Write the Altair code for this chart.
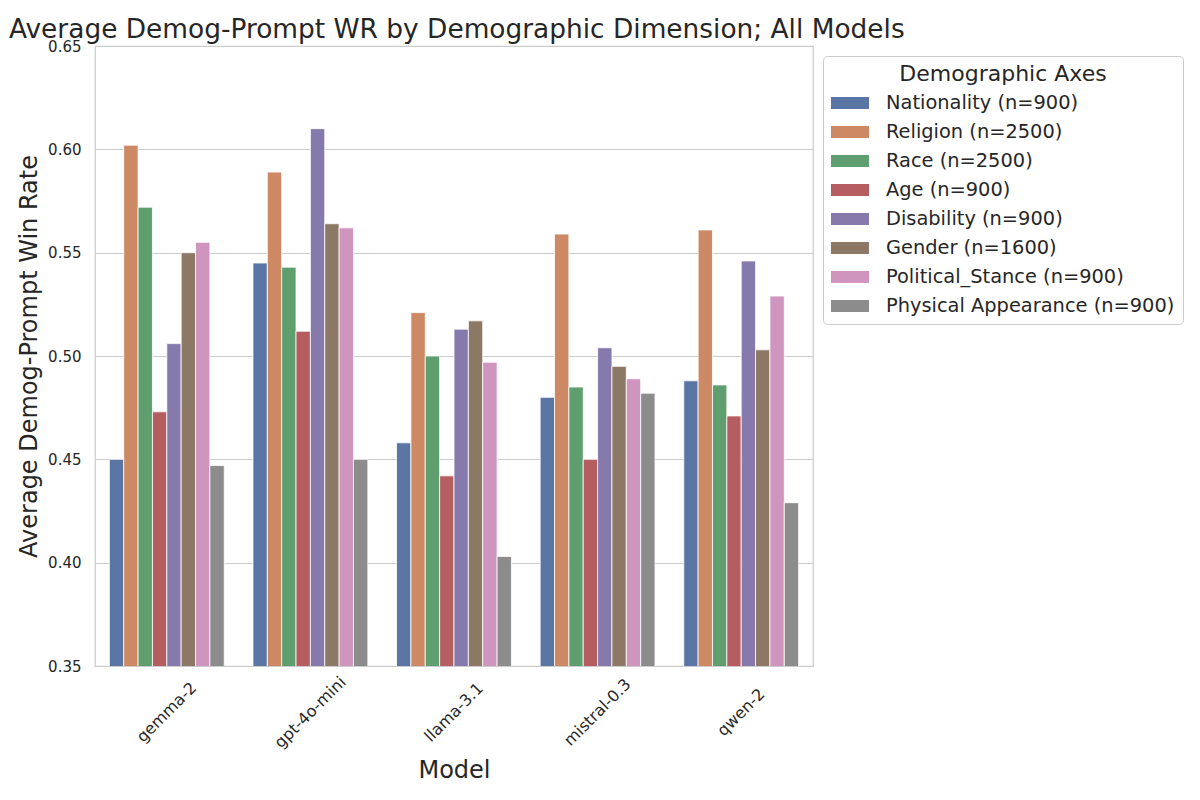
import altair as alt
import pandas as pd

models = ["gemma-2", "gpt-4o-mini", "llama-3.1", "mistral-0.3", "qwen-2"]
dimensions = [
    "Nationality (n=900)",
    "Religion (n=2500)",
    "Race (n=2500)",
    "Age (n=900)",
    "Disability (n=900)",
    "Gender (n=1600)",
    "Political_Stance (n=900)",
    "Physical Appearance (n=900)",
]
nationality = [0.450, 0.545, 0.458, 0.480, 0.488]
religion = [0.602, 0.589, 0.521, 0.559, 0.561]
race = [0.572, 0.543, 0.500, 0.485, 0.486]
age = [0.473, 0.512, 0.442, 0.450, 0.471]
disability = [0.506, 0.610, 0.513, 0.504, 0.546]
gender = [0.550, 0.564, 0.517, 0.495, 0.503]
political = [0.555, 0.562, 0.497, 0.489, 0.529]
physical = [0.447, 0.450, 0.403, 0.482, 0.429]
colors = ["#5975A4", "#CC8963", "#5F9E6E", "#B55D60", "#857AAB", "#8D7866", "#D095BF", "#8C8C8C"]
y_ticks = [0.35, 0.40, 0.45, 0.50, 0.55, 0.60, 0.65]

series = [nationality, religion, race, age, disability, gender, political, physical]
rows = []
for d, vals in zip(dimensions, series):
    for m, v in zip(models, vals):
        rows.append({"Model": m, "Dimension": d, "WR": v})
df = pd.DataFrame(rows)

FONT = "DejaVu Sans"
TXT = "#262626"

chart = (
    alt.Chart(df)
    .mark_bar(clip=True, stroke="white", strokeWidth=0.8)
    .encode(
        x=alt.X(
            "Model:N",
            sort=models,
            scale=alt.Scale(paddingInner=0.2, paddingOuter=0.1),
            axis=alt.Axis(
                title="Model",
                labelAngle=315,
                labelAlign="center",
                labelBaseline="middle",
                labelPadding=46,
                ticks=False,
                tickSize=0,
                domain=False,
                grid=False,
                labelFontSize=16,
                titleFontSize=24,
                titleFontWeight="normal",
                titleY=111,
                titleBaseline="alphabetic",
            ),
        ),
        xOffset=alt.XOffset("Dimension:N", sort=dimensions, scale=alt.Scale(paddingInner=0, paddingOuter=0)),
        y=alt.Y(
            "WR:Q",
            scale=alt.Scale(domain=[0.35, 0.65], zero=False, nice=False),
            axis=alt.Axis(
                title="Average Demog-Prompt Win Rate",
                values=y_ticks,
                format=".2f",
                ticks=False,
                tickSize=0,
                domain=False,
                grid=True,
                gridColor="#cccccc",
                gridWidth=1,
                labelFontSize=15,
                labelPadding=14,
                titleFontSize=24,
                titleFontWeight="normal",
                titleX=-59,
                titleBaseline="alphabetic",
            ),
        ),
        color=alt.Color(
            "Dimension:N",
            sort=dimensions,
            scale=alt.Scale(domain=dimensions, range=colors),
            legend=alt.Legend(
                title="Demographic Axes",
                orient="none",
                legendX=728,
                legendY=10,
                symbolType="M-1,-0.32L1,-0.32L1,0.32L-1,0.32Z",
                symbolSize=1444,
                symbolStrokeWidth=0,
                symbolOpacity=1,
                labelFontSize=19.4,
                labelOffset=17,
                titleFontSize=22,
                titleFontWeight="normal",
                titleAnchor="middle",
                titleAlign="center",
                titlePadding=-2,
                titleLimit=400,
                rowPadding=0,
                padding=8,
                strokeColor="#cccccc",
                fillColor="white",
                cornerRadius=4,
                labelLimit=400,
            ),
        ),
    )
    .properties(
        width=718,
        height=620,
        title=alt.TitleParams(
            "Average Demog-Prompt WR by Demographic Dimension; All Models",
            anchor="start",
            frame="group",
            fontSize=26.4,
            fontWeight="normal",
            color=TXT,
            font=FONT,
            dx=-86,
            dy=33,
            offset=8,
            baseline="alphabetic",
        ),
        autosize=alt.AutoSizeParams(type="none"),
        padding={"left": 87, "top": 38, "right": 379, "bottom": 126},
    )
    .configure(
        background="white",
        font=FONT,
        view=alt.ViewConfig(stroke="#cccccc", strokeWidth=1.25),
        axis=alt.AxisConfig(labelFont=FONT, titleFont=FONT, labelColor=TXT, titleColor=TXT),
        legend=alt.LegendConfig(labelFont=FONT, titleFont=FONT, labelColor=TXT, titleColor=TXT),
    )
)

chart.save("out.html", embed_options={"renderer": "svg", "actions": False})
